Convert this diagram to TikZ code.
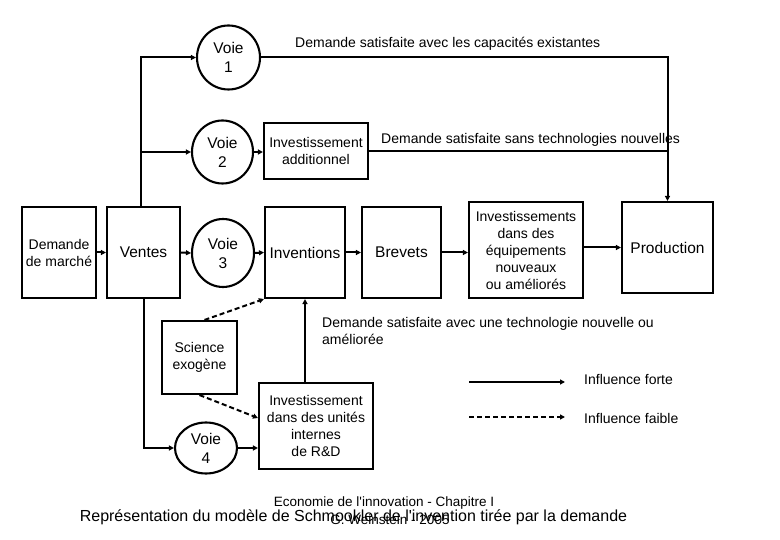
\documentclass[tikz,border=0pt]{standalone}
\usepackage{fontspec}
\setmainfont{Liberation Sans}
\usetikzlibrary{shapes.geometric,arrows.meta}
\begin{document}
\begin{tikzpicture}[x=1pt,y=-1pt,
 box/.style={draw,line width=2.1pt,inner sep=0pt,align=center,font=\fontsize{14}{17}\selectfont},
 bigtext/.style={font=\fontsize{15.5}{19}\selectfont},
 voie/.style={draw,ellipse,line width=2.1pt,inner sep=0pt,align=center,font=\fontsize{15.5}{19}\selectfont},
 lbl/.style={inner sep=0pt,anchor=west,align=left,font=\fontsize{14}{17}\selectfont},
 conn/.style={line width=2pt,-{Triangle[length=5pt,width=5pt]}},
 weak/.style={conn,dash pattern=on 5pt off 3pt},
 plain/.style={line width=2pt}]
\path[use as bounding box] (0,0) rectangle (780,540);
% nodes
\node[box,minimum width=74pt,minimum height=91pt] (ddm) at (59,252.5) {Demande\\de marché};
\node[box,bigtext,minimum width=73pt,minimum height=91pt] (ventes) at (143.5,252.5) {Ventes};
\node[voie,minimum width=63pt,minimum height=64pt] (v1) at (228.5,57.5) {Voie\\1};
\node[voie,minimum width=61pt,minimum height=63pt] (v2) at (222.5,152) {Voie\\2};
\node[voie,minimum width=62pt,minimum height=68pt] (v3) at (223,253) {Voie\\3};
\node[voie,minimum width=62pt,minimum height=51pt] (v4) at (206,448) {Voie\\4};
\node[box,minimum width=104pt,minimum height=56pt] (ia) at (316,151) {Investissement\\additionnel};
\node[box,bigtext,minimum width=80pt,minimum height=91pt] (inv) at (305,252.5) {Inventions};
\node[box,bigtext,minimum width=79pt,minimum height=91pt] (brev) at (401.5,252.5) {Brevets};
\node[box,minimum width=114pt,minimum height=96pt] (ieq) at (526,250) {Investissements\\dans des\\équipements\\nouveaux\\ou améliorés};
\node[box,bigtext,minimum width=91pt,minimum height=91pt] (prod) at (667.5,247.5) {Production};
\node[box,minimum width=75pt,minimum height=73pt] (sci) at (199.5,357.5) {Science\\exogène};
\node[box,minimum width=114pt,minimum height=86pt] (rd) at (316,426) {Investissement\\dans des unités\\internes\\de R\&D};
% connectors
\draw[conn] (ddm) -- (ventes);
\draw[conn] (ventes.east) -- (v3.west);
\draw[conn] (v3.east) -- (inv.west);
\draw[conn] (inv) -- (brev);
\draw[conn] (brev.east) -- (brev.east -| ieq.west);
\draw[conn] (prod.west -| ieq.east) -- (prod.west);
\draw[conn] (v2.east) -- (v2.east -| ia.west);
\draw[conn] ([xshift=-2.5pt]ventes.north) |- (v1.west);
\draw[conn] ([xshift=-2.5pt]ventes.north |- v2.west) -- (v2.west);
\draw[conn] (v1.east) -| (prod.north);
\draw[plain] (ia.east) -- (ia.east -| prod.north);
\draw[conn] (ventes.south) |- (v4.west);
\draw[conn] (v4.east) -- (v4.east -| rd.west);
\draw[conn] (inv.south |- rd.north) -- (inv.south);
\draw[weak] ([xshift=5pt]sci.north) -- (inv.south west);
\draw[weak] (sci.south) -- ([yshift=8pt]rd.west);
% labels
\node[lbl] (l1) at (295,44) {Demande satisfaite avec les capacités existantes};
\node[lbl] (l2) at (381,140) {Demande satisfaite sans technologies nouvelles};
\node[lbl] (l3) at (322,330.5) {Demande satisfaite avec une technologie nouvelle ou\\améliorée};
% legend
\coordinate (fa) at (469,382);
\coordinate (fb) at (565,382);
\coordinate (wa) at (469,417);
\coordinate (wb) at (565,417);
\draw[conn] (fa) -- (fb);
\draw[weak] (wa) -- (wb);
\node[lbl] (lf) at (584,379) {Influence forte};
\node[lbl] (lw) at (584,418) {Influence faible};
% footer
\node[inner sep=0pt,font=\fontsize{13.5}{16}\selectfont] (eco) at (384,503) {Economie de l\textquotesingle innovation - Chapitre I};
\node[inner sep=0pt,font=\fontsize{13.5}{16}\selectfont] (auth) at (390,520) {G. Weinstein - 2005};
\node[inner sep=0pt,font=\fontsize{16}{19}\selectfont] (title) at (353.5,517) {Représentation du modèle de Schmookler de l\textquotesingle invention tirée par la demande};
\end{tikzpicture}
\end{document}
